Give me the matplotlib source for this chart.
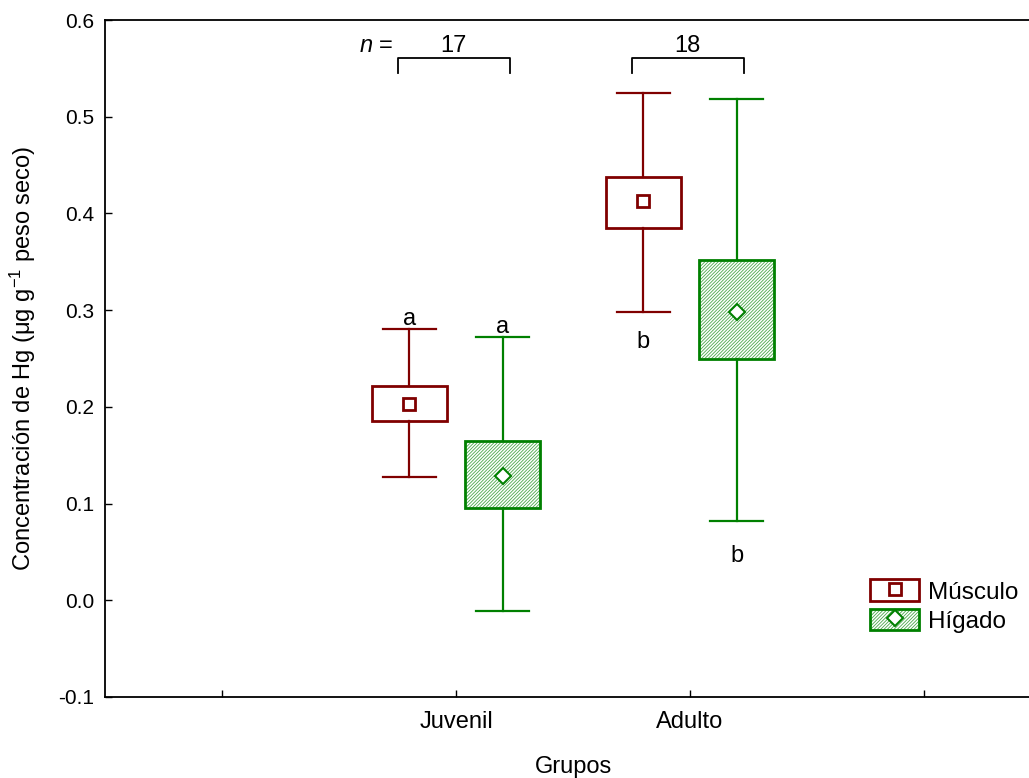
import matplotlib
matplotlib.use("Agg")
import matplotlib.pyplot as plt
from matplotlib.patches import Patch
from matplotlib.lines import Line2D

plt.rcParams['font.family'] = ['Liberation Sans', 'DejaVu Sans']
plt.rcParams['mathtext.fontset'] = 'custom'
plt.rcParams['mathtext.rm'] = 'Liberation Sans'
plt.rcParams['mathtext.it'] = 'Liberation Sans:italic'
plt.rcParams['hatch.linewidth'] = 0.6

# Data
groups = ["Juvenil", "Adulto"]
group_pos = [1, 2]
n_sizes = [17, 18]
tissues = ["Músculo", "Hígado"]

# mean, box (mean ± SE), whiskers (mean ± SD)
musculo_mean = [0.203, 0.413]
musculo_box_lo = [0.185, 0.385]
musculo_box_hi = [0.222, 0.438]
musculo_whis_lo = [0.127, 0.298]
musculo_whis_hi = [0.280, 0.525]

higado_mean = [0.129, 0.298]
higado_box_lo = [0.095, 0.249]
higado_box_hi = [0.165, 0.352]
higado_whis_lo = [-0.011, 0.082]
higado_whis_hi = [0.272, 0.518]

musculo_letters = ["a", "b"]
higado_letters = ["a", "b"]

xtick_labels = ["", "Juvenil", "Adulto", ""]

RED = "#800000"
GREEN = "#008000"
HATCH_GREEN = "#4aa84a"
HATCH = "//////////"

fig = plt.figure(figsize=(10.29, 7.78), dpi=100)
ax = fig.add_axes([105 / 1029, 81 / 778, 936 / 1029, 677 / 778])

offset = 0.2
box_w = 0.32
cap_w = 0.226


def stats(mean, lo, hi, wlo, whi):
    out = []
    for m, a, b, c, d in zip(mean, lo, hi, wlo, whi):
        out.append(dict(med=m, q1=a, q3=b, whislo=c, whishi=d, mean=m, fliers=[]))
    return out


mus_pos = [p - offset for p in group_pos]
hig_pos = [p + offset for p in group_pos]

ax.bxp(stats(musculo_mean, musculo_box_lo, musculo_box_hi, musculo_whis_lo, musculo_whis_hi),
       positions=mus_pos, widths=box_w, capwidths=cap_w, showmeans=True, patch_artist=True,
       boxprops=dict(facecolor="white", edgecolor=RED, linewidth=2),
       whiskerprops=dict(color=RED, linewidth=1.6),
       capprops=dict(color=RED, linewidth=1.6),
       medianprops=dict(linewidth=0),
       meanprops=dict(marker="s", markersize=8, markerfacecolor="white",
                      markeredgecolor=RED, markeredgewidth=2))

# light hatch fill under the liver boxes
ax.bar(hig_pos, [h - l for h, l in zip(higado_box_hi, higado_box_lo)], bottom=higado_box_lo,
       width=box_w, color="white", edgecolor=HATCH_GREEN, linewidth=0, hatch=HATCH, zorder=1.5)

ax.bxp(stats(higado_mean, higado_box_lo, higado_box_hi, higado_whis_lo, higado_whis_hi),
       positions=hig_pos, widths=box_w, capwidths=cap_w, showmeans=True, patch_artist=True,
       boxprops=dict(facecolor="none", edgecolor=GREEN, linewidth=2),
       whiskerprops=dict(color=GREEN, linewidth=1.6),
       capprops=dict(color=GREEN, linewidth=1.6),
       medianprops=dict(linewidth=0),
       meanprops=dict(marker="D", markersize=8, markerfacecolor="white",
                      markeredgecolor=GREEN, markeredgewidth=1.5))

FS = 17

# significance letters
for p, top, lab in zip(mus_pos, musculo_whis_hi, musculo_letters):
    if lab == "a":
        ax.text(p, top - 0.001, lab, ha="center", va="bottom", fontsize=FS)
for p, top, lab in zip(hig_pos, higado_whis_hi, higado_letters):
    if lab == "a":
        ax.text(p, top - 0.001, lab, ha="center", va="bottom", fontsize=FS)
ax.text(mus_pos[1], musculo_whis_lo[1] - 0.020, musculo_letters[1], ha="center", va="top", fontsize=FS)
ax.text(hig_pos[1], higado_whis_lo[1] - 0.025, higado_letters[1], ha="center", va="top", fontsize=FS)

# sample-size brackets
for g, n in zip(group_pos, n_sizes):
    x0, x1 = g - 0.25, g + 0.23
    ax.plot([x0, x0, x1, x1], [0.545, 0.5607, 0.5607, 0.545], color="black", linewidth=1.3)
    ax.text((x0 + x1) / 2, 0.5615, str(n), ha="center", va="bottom", fontsize=FS)
ax.text(0.66, 0.5615, "$n$ =", ha="center", va="bottom", fontsize=FS)

ax.set_xlim(-0.5, 3.5)
ax.set_ylim(-0.1, 0.6)
ax.set_xticks(range(len(xtick_labels)))
ax.set_xticklabels(xtick_labels)
yticks = [-0.1, 0.0, 0.1, 0.2, 0.3, 0.4, 0.5, 0.6]
ax.set_yticks(yticks)
ax.set_yticklabels([f"{v:.1f}" for v in yticks])
ax.tick_params(direction="in", length=5, width=1, labelsize=15, pad=8)
ax.tick_params(axis="x", labelsize=FS, pad=10)
for s in ["left", "bottom", "top"]:
    ax.spines[s].set_linewidth(1.3)
ax.spines["right"].set_visible(False)

ax.set_ylabel("Concentración de Hg (μg g$^{-1}$ peso seco)", fontsize=FS, labelpad=14)
ax.set_xlabel("Grupos", fontsize=FS, labelpad=17)

# legend
h_mus = (Patch(facecolor="white", edgecolor=RED, linewidth=2),
         Line2D([], [], linestyle="none", marker="s", markersize=8, markerfacecolor="white",
                markeredgecolor=RED, markeredgewidth=2))
h_hig = (Patch(facecolor="white", edgecolor=HATCH_GREEN, linewidth=0, hatch=HATCH),
         Patch(facecolor="none", edgecolor=GREEN, linewidth=2),
         Line2D([], [], linestyle="none", marker="D", markersize=8, markerfacecolor="white",
                markeredgecolor=GREEN, markeredgewidth=1.5))
fig.legend([h_mus, h_hig], tissues, loc="upper left", bbox_to_anchor=(851 / 1029, 1 - 560 / 778),
           frameon=False, fontsize=17.5, handlelength=2.0, handleheight=1.0,
           handletextpad=0.35, labelspacing=0.2, borderpad=0.3)

fig.savefig("out.png", dpi=100)
